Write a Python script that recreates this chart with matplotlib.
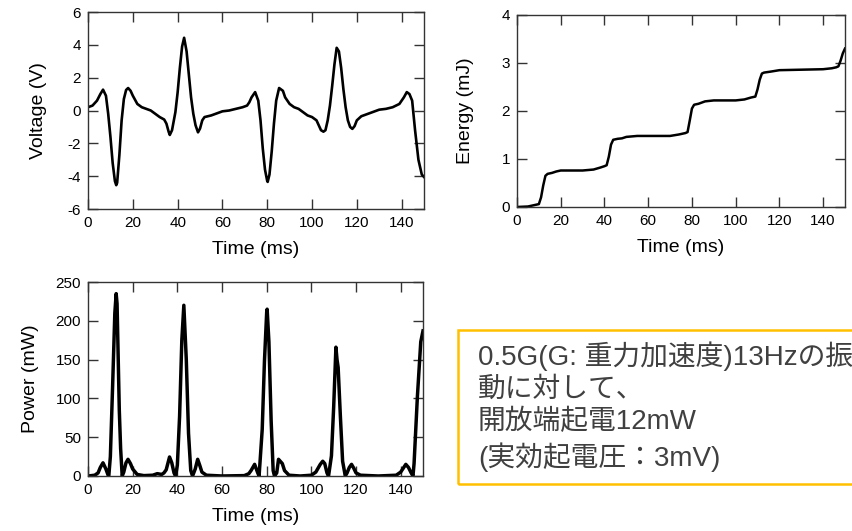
import matplotlib.pyplot as plt
from matplotlib.patches import Rectangle

# Voltage waveform (ms, V)
t_v = [0, 2, 4, 5.5, 6.7, 8, 9, 10, 11, 12, 12.6, 13, 14, 15, 16, 17, 17.9, 19, 20, 22, 24,
       26, 28, 30, 32, 34, 35, 36, 36.5, 37.5, 39, 40, 41, 42, 42.9, 44, 45, 46, 47, 48,
       49.1, 50, 51, 52, 55, 58, 60, 63, 66, 69, 71, 72, 73, 74.6, 76, 77, 78, 79, 80,
       80.2, 81, 82, 83, 84, 85.3, 87, 88, 90, 92, 94, 96, 98, 100, 102, 103, 104, 105.1,
       106, 107, 108, 109, 110, 111, 112, 113, 114, 115, 116, 117, 118, 119, 120, 122, 125,
       128, 130, 133, 136, 139, 141, 142.3, 143.5, 144.7, 146, 147.5, 149, 150]
voltage = [0.2, 0.3, 0.6, 1.0, 1.27, 0.9, -0.2, -1.6, -3.2, -4.3, -4.55, -4.4, -2.7, -0.6,
           0.7, 1.25, 1.37, 1.2, 0.9, 0.4, 0.2, 0.1, 0.0, -0.2, -0.4, -0.55, -0.8, -1.3,
           -1.49, -1.2, -0.1, 1.1, 2.6, 3.9, 4.43, 3.6, 2.2, 0.8, -0.2, -0.9, -1.33, -1.1,
           -0.6, -0.4, -0.3, -0.15, -0.05, 0.0, 0.1, 0.2, 0.3, 0.5, 0.8, 1.12, 0.6, -0.6,
           -2.3, -3.6, -4.3, -4.35, -3.9, -2.5, -0.8, 0.6, 1.37, 1.2, 0.8, 0.4, 0.2, 0.1,
           -0.1, -0.3, -0.4, -0.6, -0.9, -1.2, -1.29, -1.2, -0.6, 0.3, 1.5, 2.8, 3.82, 3.6,
           2.6, 1.3, 0.2, -0.6, -1.0, -1.12, -0.95, -0.6, -0.35, -0.2, -0.05, 0.05, 0.1, 0.2,
           0.4, 0.8, 1.12, 1.0, 0.6, -1.2, -3.0, -3.9, -4.05]

# Cumulative energy (ms, mJ)
t_e = [0, 5, 8, 10, 11, 12, 13, 14, 16, 18, 20, 25, 30, 35, 38, 40, 41, 42, 43, 44, 46, 48,
       50, 55, 60, 70, 74, 77, 78, 79, 80, 81, 83, 86, 90, 100, 104, 107, 109, 110, 111, 112,
       113, 116, 120, 130, 140, 144, 146, 147, 148, 149, 150]
energy = [0, 0.01, 0.04, 0.06, 0.2, 0.45, 0.65, 0.69, 0.71, 0.74, 0.76, 0.76, 0.76, 0.78,
          0.82, 0.85, 0.87, 1.05, 1.3, 1.40, 1.42, 1.43, 1.46, 1.48, 1.48, 1.48, 1.51, 1.54,
          1.56, 1.8, 2.05, 2.13, 2.15, 2.2, 2.22, 2.22, 2.24, 2.28, 2.30, 2.45, 2.65, 2.78,
          2.80, 2.82, 2.85, 2.86, 2.87, 2.89, 2.91, 2.93, 3.05, 3.2, 3.3]

# Power (ms, mW)
t_p = [0, 3, 4.5, 5.5, 6.7, 8, 9, 9.3, 10, 11, 12, 12.6, 13, 14, 14.6, 15.3, 16, 17, 17.9,
       19, 20, 22, 25, 29, 31, 33, 34, 35, 36.5, 37.5, 38.5, 39.2, 40, 41, 42, 42.9, 44, 45,
       46, 46.8, 48, 49.1, 50, 51, 53, 60, 70, 72, 73, 74.6, 76, 76.6, 78, 79, 80, 80.2,
       81, 82, 82.9, 83.5, 84.5, 85.3, 87, 88, 90, 95, 100, 102, 104, 105.1, 106, 107,
       107.7, 109, 110, 111, 111.5, 112, 113, 114, 115.2, 116, 117, 118, 119, 120, 122,
       130, 138, 140, 142.3, 143.5, 144.7, 145.5, 146, 147.5, 149, 150]
power = [0, 1, 4, 11, 17, 9, 1, 0, 25, 115, 210, 235, 222, 85, 35, 0, 5, 17, 21.5, 16, 9,
         2, 0.5, 1, 3, 2, 4, 8, 24.5, 17, 4, 0, 14, 77, 175, 220, 150, 55, 7, 0, 9, 21.5, 14,
         5, 1, 0, 0.5, 3, 7, 15, 4, 0, 60, 148, 211, 215, 173, 71, 7, 0, 4, 21.5, 16, 7, 1,
         0, 1, 5, 15, 19, 16, 4, 0, 26, 89, 166, 150, 140, 77, 19, 0, 4, 11, 15, 10, 4, 1,
         0, 1, 5, 15, 11, 4, 0, 16, 103, 173, 187]

note_lines = ["0.5G(G: 重力加速度)13Hzの振", "動に対して、", "開放端起電12mW", "(実効起電圧：3mV)"]

plt.rcParams['font.family'] = ['Liberation Sans', 'Noto Sans CJK JP', 'DejaVu Sans']
plt.rcParams['axes.unicode_minus'] = False

fig = plt.figure(figsize=(8.53, 5.31), dpi=100)


def style(ax, yticks, ylabel, ypad):
    ax.set_xlim(0, 150)
    ax.set_xticks(range(0, 150, 20))
    ax.set_yticks(yticks)
    ax.set_ylim(yticks[0], yticks[-1])
    ax.tick_params(direction='in', top=True, right=True, length=7, width=1,
                   labelsize=11, color='#333333', pad=5)
    for s in ax.spines.values():
        s.set_color('#333333')
        s.set_linewidth(1)
    ax.set_xlabel("Time (ms)", fontsize=14, labelpad=8)
    ax.set_ylabel(ylabel, fontsize=14, labelpad=ypad)


ax1 = fig.add_axes([0.1032, 0.6064, 0.3939, 0.3710])
ax1.plot(t_v, voltage, color='black', lw=1.9)
style(ax1, [-6, -4, -2, 0, 2, 4, 6], "Voltage (V)", 15)

ax2 = fig.add_axes([0.6061, 0.6102, 0.3845, 0.3616])
ax2.plot(t_e, energy, color='black', lw=1.8)
style(ax2, [0, 1, 2, 3, 4], "Energy (mJ)", 20)

ax3 = fig.add_axes([0.1032, 0.1036, 0.3927, 0.3653])
ax3.plot(t_p, power, color='black', lw=2.5)
style(ax3, [0, 50, 100, 150, 200, 250], "Power (mW)", 12)

# note box
fig.patches.append(Rectangle((458 / 853, 1 - 484 / 531), 420 / 853, 154 / 531,
                             transform=fig.transFigure, fill=False,
                             edgecolor='#FFC000', lw=1.8))
fig.text(478 / 853, 1 - 341 / 531, "\n".join(note_lines), fontsize=20,
         color='#404040', va='top', ha='left', linespacing=1.3)

fig.savefig("out.png", dpi=100)
